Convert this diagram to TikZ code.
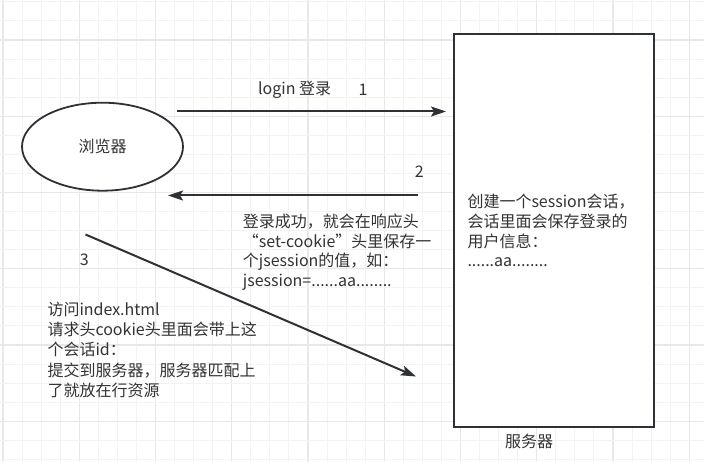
\documentclass[tikz,border=0pt]{standalone}
\usepackage{fontspec}
\setmainfont{Noto Sans CJK SC}
\usetikzlibrary{arrows.meta,shapes.geometric}
\definecolor{ink}{HTML}{333333}
\definecolor{edge}{HTML}{2E3236}
\definecolor{gridminor}{HTML}{F3F3F3}
\definecolor{gridmajor}{HTML}{E8E8E8}
\begin{document}
\begin{tikzpicture}[x=1pt,y=-1pt,
  txt/.style={text=ink,font=\fontsize{16}{19.7}\selectfont,inner sep=0pt},
  block/.style={txt,align=left,anchor=north west},
  arr/.style={draw=edge,line width=2pt,-{Stealth[length=15pt,width=10pt,inset=3pt]}},
  shapeline/.style={draw=edge,line width=1.8pt,fill=white}]
\useasboundingbox (0,0) rectangle (704,462);
\fill[white] (0,0) rectangle (704,462);
% grid
\foreach \i in {0,...,36}{
  \pgfmathtruncatemacro{\m}{mod(\i,4)}
  \ifnum\m=0
    \draw[gridmajor,line width=1.2pt] ({3.06+\i*19.06},0) -- ({3.06+\i*19.06},462);
  \else
    \draw[gridminor,line width=1pt] ({3.06+\i*19.06},0) -- ({3.06+\i*19.06},462);
  \fi}
\foreach \j in {0,...,24}{
  \pgfmathtruncatemacro{\m}{mod(\j,4)}
  \ifnum\m=2
    \draw[gridmajor,line width=1.2pt] (0,{1.88+\j*19.06}) -- (704,{1.88+\j*19.06});
  \else
    \draw[gridminor,line width=1pt] (0,{1.88+\j*19.06}) -- (704,{1.88+\j*19.06});
  \fi}
% shapes
\node[shapeline,ellipse,minimum width=161pt,minimum height=88pt,inner sep=0pt,txt] (browser) at (102.5,146.7) {浏览器};
\node[shapeline,rectangle,minimum width=200pt,minimum height=393pt,inner sep=0pt] (server) at (554,230.5) {};
\node[txt] (serverlbl) at (529,441.7) {服务器};
% arrows
\coordinate (a1s) at (177,111.5);
\coordinate (a1e) at (446,111.5);
\draw[arr] (a1s) -- (a1e);
\coordinate (a2s) at (418,195.5);
\coordinate (a2e) at (168,195.5);
\draw[arr] (a2s) -- (a2e);
\coordinate (a3s) at (85.5,234.5);
\coordinate (a3e) at (416,376.5);
\draw[arr] (a3s) -- (a3e);
% labels
\node[txt] (l1) at (294.7,89.3) {login 登录};
\node[txt] (n1) at (363,89.3) {1};
\node[txt] (n2) at (419.3,171.7) {2};
\node[txt] (n3) at (84.3,259.3) {3};
\node[block] (t2) at (242.7,213.7) {登录成功，就会在响应头\\“set-cookie”头里保存一\\个jsession的值，如：\\jsession=......aa........};
\node[block] (tbox) at (467.3,194.2) {创建一个session会话，\\会话里面会保存登录的\\用户信息：\\......aa........};
\node[block,font=\fontsize{16}{20.2}\selectfont] (t3) at (47.3,301.8) {访问index.html\\请求头cookie头里面会带上这\\个会话id：\\提交到服务器，服务器匹配上\\了就放在行资源};
\end{tikzpicture}
\end{document}
